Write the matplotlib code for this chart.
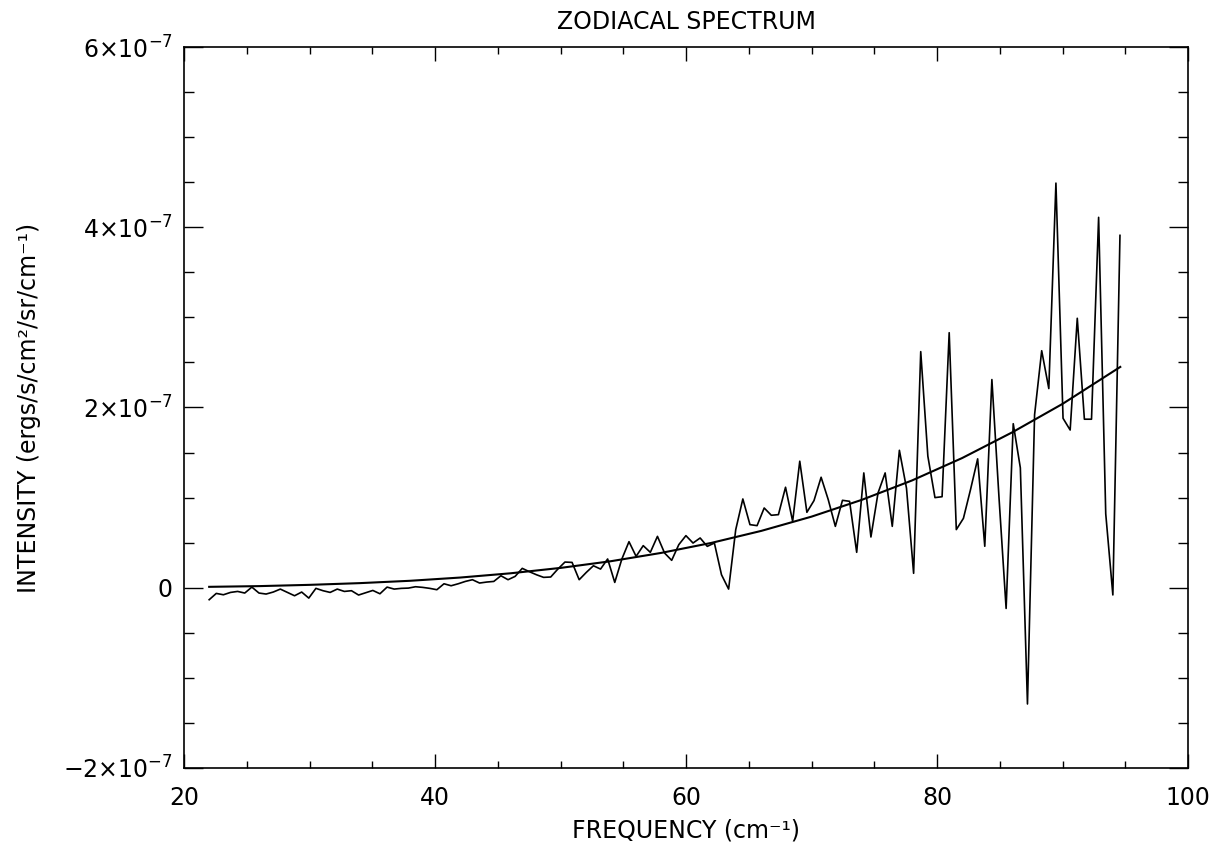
import matplotlib
matplotlib.use('Agg')
import matplotlib.pyplot as plt
from matplotlib.ticker import MultipleLocator, FuncFormatter
import numpy as np

# frequency grid of the spectrum (cm^-1), evenly sampled
NU_START = 22.0
NU_STEP = 0.567

# measured intensity, in units of 1e-7 ergs/s/cm^2/sr/cm^-1
intensity = [
    -0.133, -0.063, -0.078, -0.052, -0.041, -0.059, 0.007, -0.059, -0.070, -0.048,
    -0.015, -0.052, -0.089, -0.048, -0.115, -0.007, -0.033, -0.052, -0.015, -0.041,
    -0.033, -0.081, -0.056, -0.030, -0.067, 0.007, -0.015, -0.007, -0.004, 0.011,
    0.004, -0.007, -0.022, 0.044, 0.022, 0.044, 0.070, 0.089, 0.052, 0.063,
    0.070, 0.133, 0.089, 0.126, 0.215, 0.178, 0.144, 0.115, 0.119, 0.207,
    0.285, 0.281, 0.089, 0.170, 0.244, 0.207, 0.319, 0.059, 0.319, 0.511,
    0.348, 0.467, 0.393, 0.570, 0.385, 0.304, 0.478, 0.578, 0.496, 0.552,
    0.459, 0.496, 0.144, -0.015, 0.644, 0.985, 0.700, 0.689, 0.885, 0.804,
    0.811, 1.115, 0.737, 1.404, 0.837, 0.967, 1.226, 0.978, 0.681, 0.970,
    0.959, 0.393, 1.274, 0.563, 1.052, 1.274, 0.681, 1.525, 1.104, 0.160,
    2.620, 1.460, 1.000, 1.010, 2.830, 0.645, 0.770, 1.090, 1.430, 0.460,
    2.310, 1.000, -0.230, 1.820, 1.330, -1.290, 1.920, 2.630, 2.210, 4.490,
    1.880, 1.750, 2.990, 1.870, 1.870, 4.110, 0.820, -0.080, 3.910,
]

# smooth model curve
curve_nu = [22, 26, 30, 34, 38, 42, 46, 50, 54, 58, 62, 66, 70, 74, 78, 82, 86, 90, 94.6]
curve_val = [0.010, 0.018, 0.032, 0.051, 0.077, 0.113, 0.160, 0.220, 0.294, 0.386,
             0.497, 0.631, 0.789, 0.975, 1.190, 1.439, 1.725, 2.040, 2.450]

SCALE = 1e-7
X_TICKS = [20, 40, 60, 80, 100]
Y_TICKS = [-2, 0, 2, 4, 6]

TITLE = 'ZODIACAL SPECTRUM'
XLABEL = 'FREQUENCY (cm\u207b\u00b9)'
YLABEL = 'INTENSITY (ergs/s/cm\u00b2/sr/cm\u207b\u00b9)'


def yFormat(v, pos):
    m = int(round(v / SCALE))
    if m == 0:
        return '0'
    return r'$%d{\times}10^{-7}$' % m


def main():
    plt.rcParams['font.family'] = ['DejaVu Sans']
    plt.rcParams['mathtext.fontset'] = 'dejavusans'
    plt.rcParams['axes.unicode_minus'] = True

    fig = plt.figure(figsize=(12.19, 8.5), dpi=100)
    ax = fig.add_axes([0.151, 0.0965, 0.8236, 0.8482])

    freq = NU_START + NU_STEP * np.arange(len(intensity))
    ax.plot(freq, np.array(intensity) * SCALE, color='black', lw=1.2)
    ax.plot(curve_nu, np.array(curve_val) * SCALE, color='black', lw=1.5)

    ax.set_xlim(20, 100)
    ax.set_ylim(-2 * SCALE, 6 * SCALE)
    ax.set_xticks(X_TICKS)
    ax.set_yticks([t * SCALE for t in Y_TICKS])
    ax.xaxis.set_minor_locator(MultipleLocator(5))
    ax.yaxis.set_minor_locator(MultipleLocator(0.5 * SCALE))
    ax.yaxis.set_major_formatter(FuncFormatter(yFormat))

    ax.tick_params(axis='both', which='both', direction='in', top=True, right=True,
                   labelsize=17, width=1.0, color='black')
    ax.tick_params(axis='x', which='major', length=10, pad=13)
    ax.tick_params(axis='x', which='minor', length=5)
    ax.tick_params(axis='y', which='major', length=14, pad=8)
    ax.tick_params(axis='y', which='minor', length=7)
    for s in ax.spines.values():
        s.set_linewidth(1.2)

    ax.set_title(TITLE, fontsize=17, pad=13)
    ax.set_xlabel(XLABEL, fontsize=17, labelpad=6)
    ax.set_ylabel(YLABEL, fontsize=17, labelpad=16)

    fig.savefig('out.png', dpi=100)
    plt.close(fig)


if __name__ == "__main__":
    main()
